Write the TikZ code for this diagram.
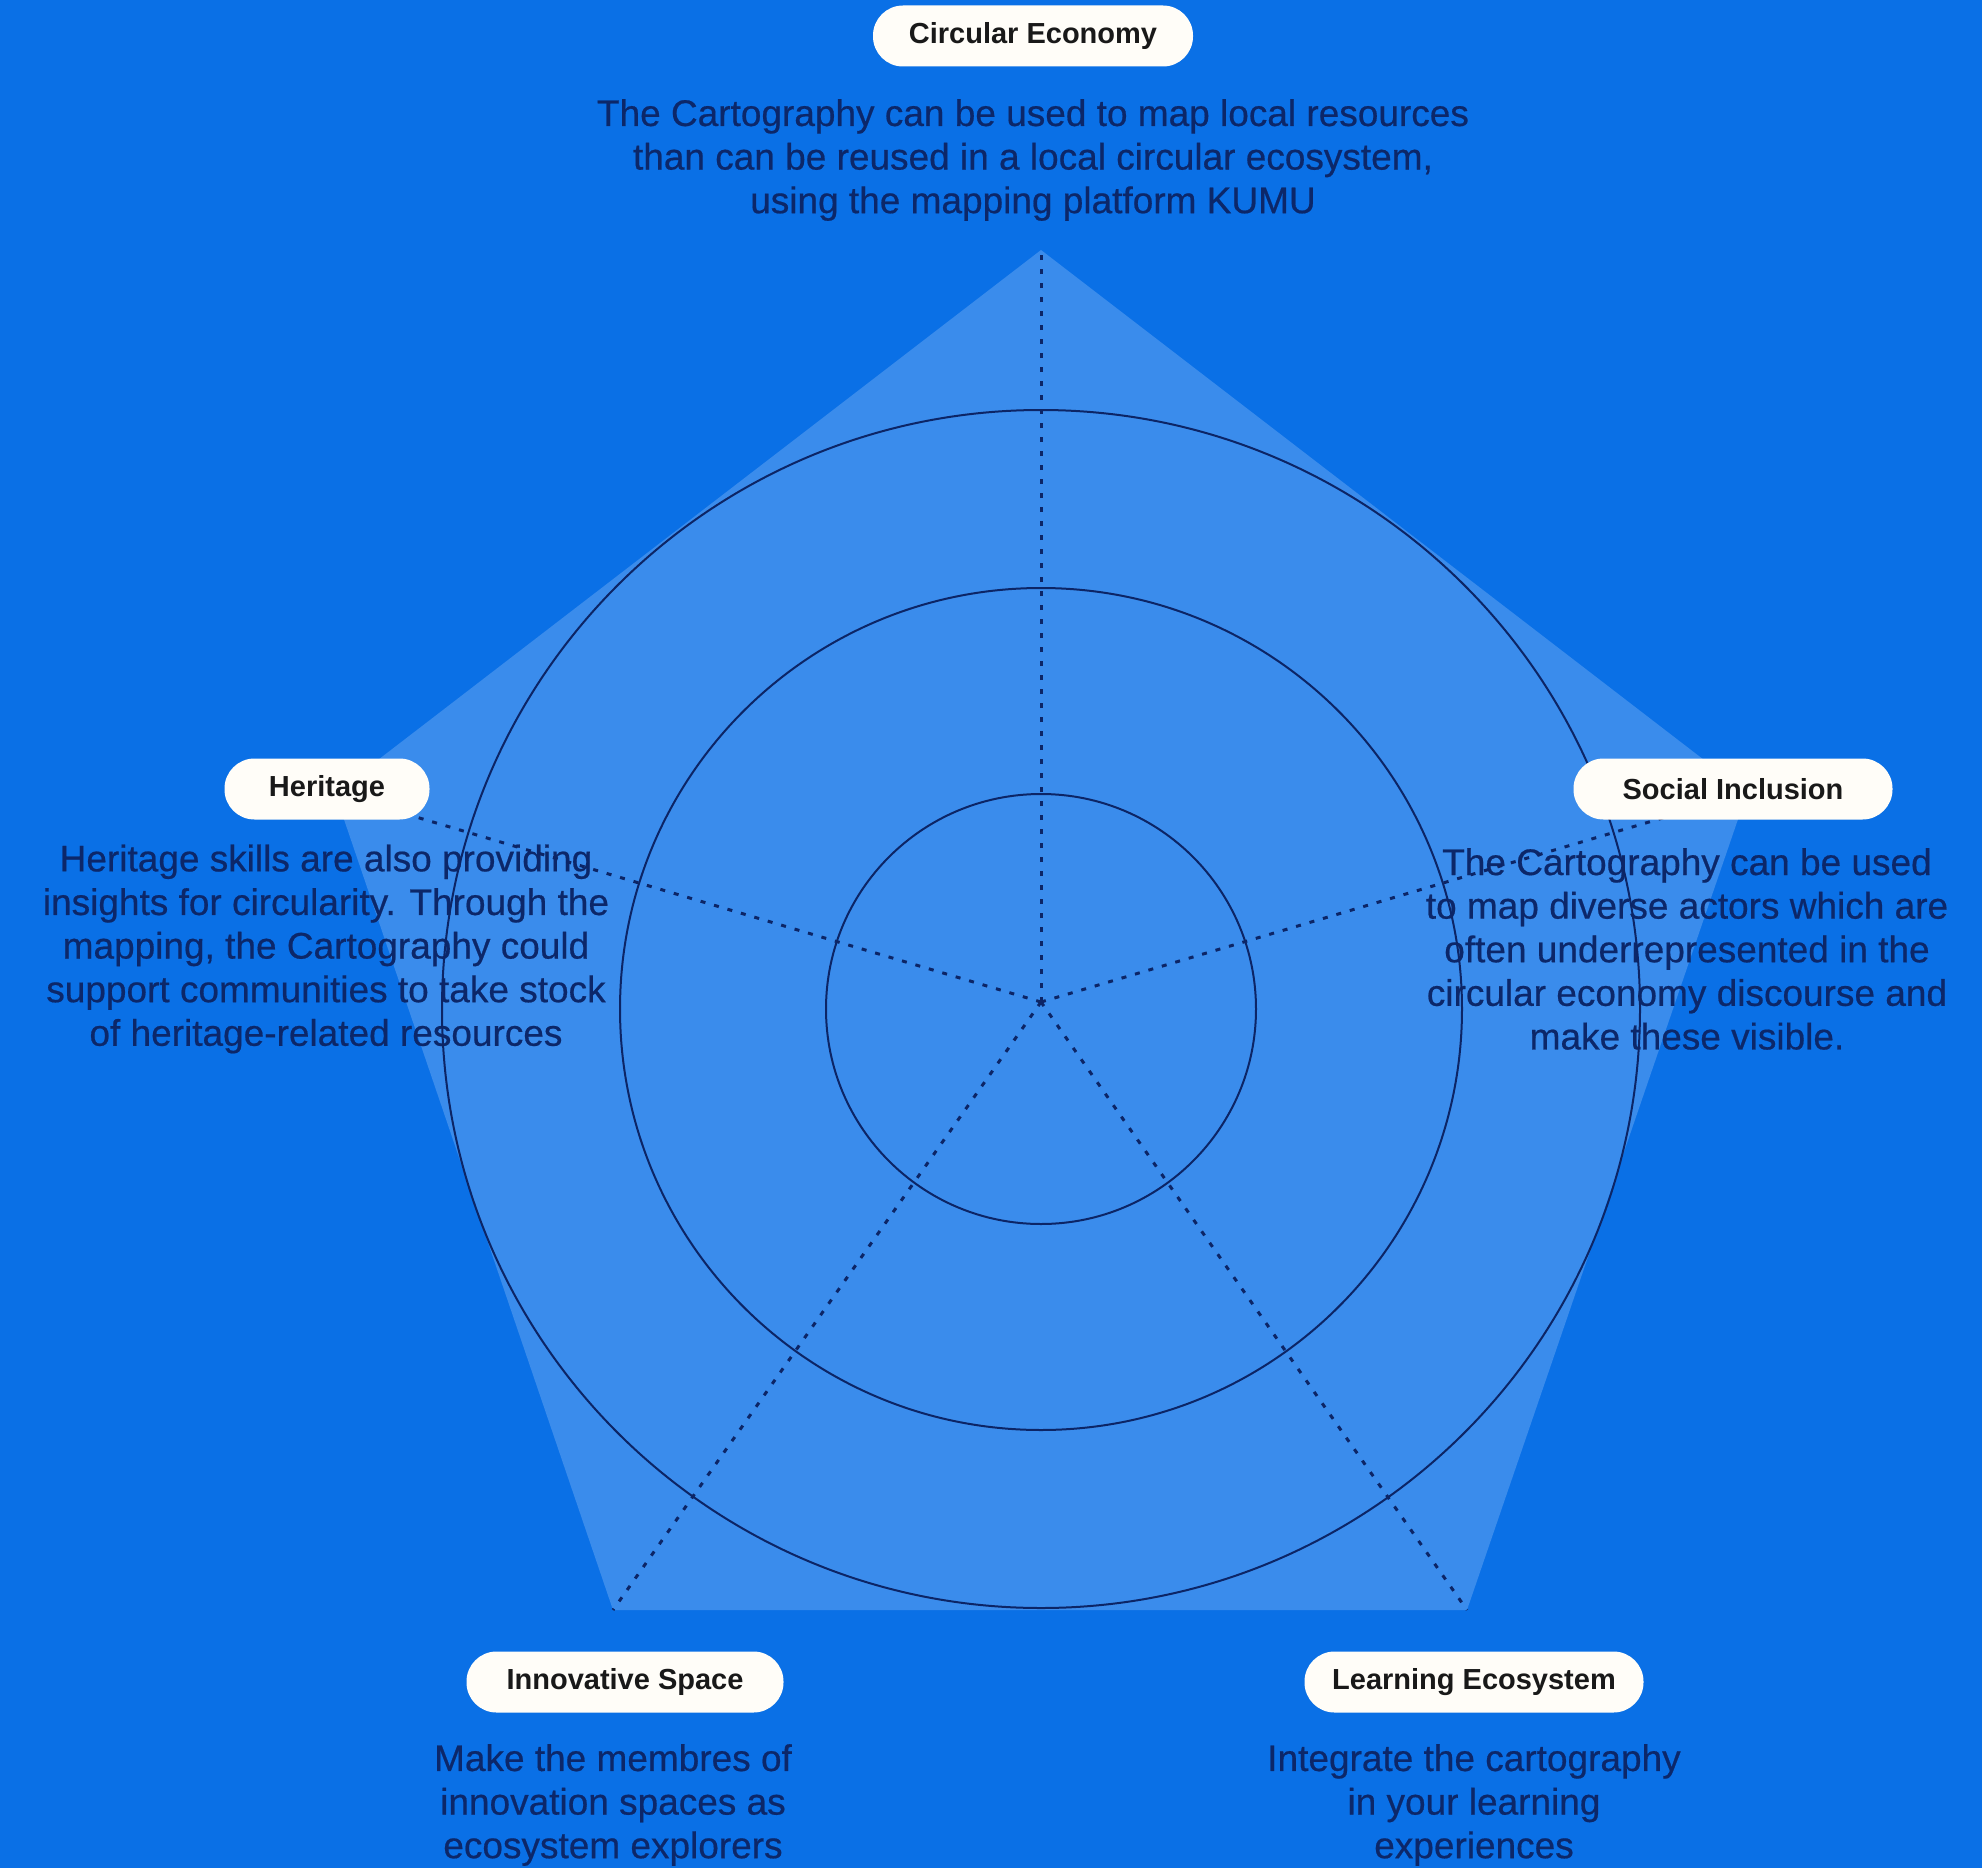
\documentclass[tikz,border=0pt]{standalone}
\usepackage{fontspec}
\setmainfont{Liberation Sans}
\newfontfamily\bodyfont[FakeBold=0.5]{Liberation Sans}
\definecolor{bg}{HTML}{0A70E6}
\definecolor{pent}{HTML}{3A8CEC}
\definecolor{navy}{HTML}{0C2566}
\definecolor{txt}{HTML}{0C2769}
\definecolor{pillfill}{HTML}{FFFDF8}
\begin{document}
\begin{tikzpicture}[x=1pt,y=-1pt,
  pill/.style={fill=pillfill, rounded corners=30pt, minimum height=61pt, inner xsep=0pt,
    font=\fontsize{29}{34}\selectfont\bfseries, text=black!90},
  body/.style={align=center, text=txt, inner sep=0pt, font=\bodyfont\fontsize{37}{43.6}\selectfont},
  ring/.style={draw=navy, line width=2pt},
  spoke/.style={draw=navy, line width=3pt, dash pattern=on 5pt off 9pt}]
\useasboundingbox (0,0) rectangle (1982,1868);
\fill[bg] (0,0) rectangle (1982,1868);
% pentagon
\coordinate (V1) at (1041,250);
\coordinate (V2) at (1747,793);
\coordinate (V3) at (1467,1610);
\coordinate (V4) at (613,1610);
\coordinate (V5) at (335,793);
\fill[pent] (V1) -- (V2) -- (V3) -- (V4) -- (V5) -- cycle;
% body texts
\node[body] (tce) at (1033,160) {The Cartography can be used to map local resources\\than can be reused in a local circular ecosystem,\\using the mapping platform KUMU};
\node[body] (the) at (326,949) {Heritage skills are also providing\\insights for circularity. Through the\\mapping, the Cartography could\\support communities to take stock\\of heritage-related resources};
\node[body] (tsi) at (1687,949) {The Cartography can be used\\to map diverse actors which are\\often underrepresented in the\\circular economy discourse and\\make these visible.};
\node[body] (tis) at (613,1805) {Make the membres of\\innovation spaces as\\ecosystem explorers};
\node[body] (tle) at (1474,1805) {Integrate the cartography\\in your learning\\experiences};
% rings
\coordinate (O) at (1041,1009);
\coordinate (C) at (1041,1002);
\draw[ring] (O) circle[radius=215pt];
\draw[ring] (O) circle[radius=421pt];
\draw[ring] (O) circle[radius=599pt];
% spokes
\draw[spoke] (C) -- (V1);
\draw[spoke] (C) -- (V2);
\draw[spoke] (C) -- (V3);
\draw[spoke] (C) -- (V4);
\draw[spoke] (C) -- (V5);
% labels
\node[pill, minimum width=320pt] (ce) at (1033,36) {Circular Economy};
\node[pill, minimum width=205pt] (he) at (327,789) {Heritage};
\node[pill, minimum width=319pt] (si) at (1733,789) {Social Inclusion};
\node[pill, minimum width=317pt] (is) at (625,1682) {Innovative Space};
\node[pill, minimum width=339pt] (le) at (1474,1682) {Learning Ecosystem};
\end{tikzpicture}
\end{document}
